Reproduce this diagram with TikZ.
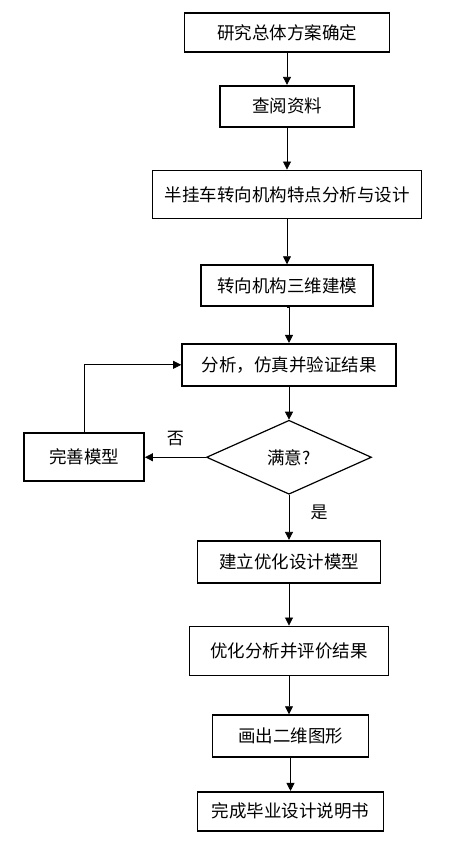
\documentclass[tikz,border=0pt]{standalone}
\usepackage{fontspec}
\newfontfamily\cjk{Noto Sans CJK SC}
\usetikzlibrary{
  arrows.meta,
  positioning,
  shapes.geometric
}
\definecolor{flowInk}{HTML}{000000}
\tikzset{
  every node/.style={font=\cjk\fontsize{17.5}{20}\selectfont, text=flowInk},
  stepbox/.style={
    draw=flowInk,
    line width=1.7pt,
    fill=white,
    minimum height=41pt,
    inner sep=0pt
  },
  check/.style={
    diamond,
    draw=flowInk,
    line width=1.2pt,
    aspect=2.2,
    minimum width=165pt,
    minimum height=74pt,
    inner sep=0pt
  },
  link/.style={
    -{Triangle[length=8pt,width=8pt]},
    line width=0.8pt,
    draw=flowInk
  },
  answer/.style={font=\cjk\fontsize{17}{20}\selectfont}
}

\begin{document}
\begin{tikzpicture}[x=1pt, y=1pt]
  \useasboundingbox (0,0) rectangle (454,-854);

  \node[stepbox, minimum width=205pt, minimum height=39pt] (plan) at (287,-32.5) {研究总体方案确定};
  \node[stepbox, minimum width=134pt, below=32pt of plan] (survey) {查阅资料};
  \node[stepbox, minimum width=269pt, minimum height=48pt, below=42pt of survey] (design) {半挂车转向机构特点分析与设计};
  \node[stepbox, minimum width=172pt, below=45pt of design] (model) {转向机构三维建模};
  \node[stepbox, minimum width=214pt, minimum height=42pt, below=36pt of model, xshift=2pt] (analysis) {分析，仿真并验证结果};
  \node[check, below=33pt of analysis] (ok) {满意?};
  \node[stepbox, minimum width=120pt, minimum height=48pt, left=61pt of ok] (refine) {完善模型};
  \node[stepbox, minimum width=183pt, minimum height=42pt, below=45pt of ok] (optmodel) {建立优化设计模型};
  \node[stepbox, minimum width=199pt, minimum height=49pt, below=42pt of optmodel] (evaluate) {优化分析并评价结果};
  \node[stepbox, minimum width=156pt, minimum height=42pt, below=38pt of evaluate, xshift=1.5pt] (drawing) {画出二维图形};
  \node[stepbox, minimum width=186pt, minimum height=39pt, below=33pt of drawing] (thesis) {完成毕业设计说明书};

  \draw[link] (plan) -- (survey);
  \draw[link] (survey) -- (design);
  \draw[link] (design) -- (model);
  \draw[link] (model.south) -- (model.south -| analysis.north) -- (analysis.north);
  \draw[link] (analysis) -- (ok);
  \draw[link] (ok) -- (optmodel);
  \draw[link] (optmodel) -- (evaluate);
  \draw[link] (evaluate.south) -- (evaluate.south |- drawing.north);
  \draw[link] (drawing) -- (thesis);

  \draw[link] (ok.west) -- (refine.east)
    node[answer, pos=0.5, above=8pt] (no) {否};
  \draw[link] (refine.north) |- (analysis.west);
  \node[answer, right=18pt of ok.south, yshift=-18pt] (yes) {是};
\end{tikzpicture}
\end{document}
